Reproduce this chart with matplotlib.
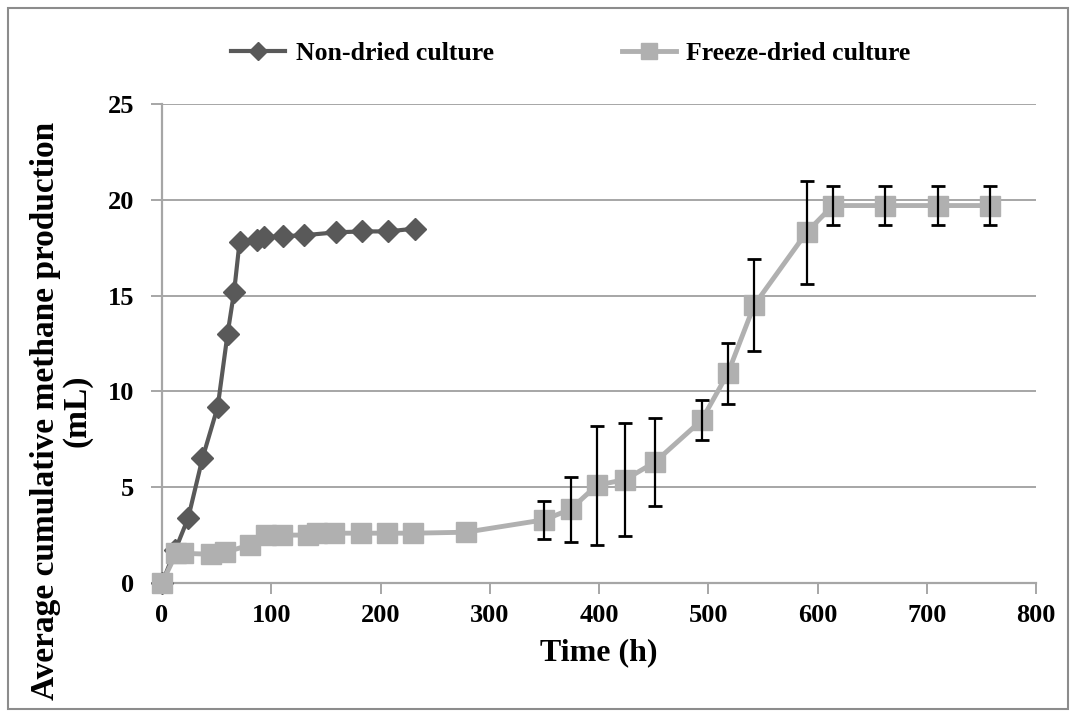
import matplotlib
matplotlib.use("Agg")
import matplotlib.pyplot as plt
from matplotlib.patches import Rectangle

# Data
nondried_time = [0, 12, 24, 37, 51, 60, 66, 71, 87, 93, 111, 130, 159, 183, 207, 232]
nondried_ch4 = [0, 1.7, 3.4, 6.5, 9.2, 13.0, 15.2, 17.8, 17.9, 18.05, 18.1, 18.15, 18.3, 18.35, 18.35, 18.5]

freeze_time = [0, 13, 19, 45, 58, 81, 95, 110, 134, 142, 157, 182, 206, 230, 278,
               350, 374, 398, 424, 451, 494, 518, 542, 590, 614, 662, 710, 758]
freeze_ch4 = [0, 1.55, 1.55, 1.5, 1.6, 2.0, 2.5, 2.5, 2.5, 2.6, 2.6, 2.6, 2.6, 2.6, 2.65,
              3.3, 3.85, 5.1, 5.4, 6.3, 8.5, 10.95, 14.5, 18.3, 19.7, 19.7, 19.7, 19.7]
freeze_err = [0, 0, 0, 0, 0, 0, 0, 0, 0, 0, 0, 0, 0, 0, 0,
              1.0, 1.7, 3.1, 2.95, 2.3, 1.05, 1.6, 2.4, 2.7, 1.0, 1.0, 1.0, 1.0]

x_ticks = [0, 100, 200, 300, 400, 500, 600, 700, 800]
y_ticks = [0, 5, 10, 15, 20, 25]
legend_labels = ["Non-dried culture", "Freeze-dried culture"]

W, H = 1076, 717
fig = plt.figure(figsize=(W / 100, H / 100), dpi=100)
plt.rcParams['font.family'] = ['Liberation Serif', 'DejaVu Serif']

ax = fig.add_axes([162 / W, 1 - 583 / H, (1036 - 162) / W, (583 - 104) / H])

grid_col = '#a6a6a6'
dark = '#595959'
light = '#b0b0b0'

err_x = [t for t, e in zip(freeze_time, freeze_err) if e > 0]
err_y = [v for v, e in zip(freeze_ch4, freeze_err) if e > 0]
err_e = [e for e in freeze_err if e > 0]

l1, = ax.plot(nondried_time, nondried_ch4, color=dark, lw=3, marker='D', markersize=11,
              markerfacecolor=dark, markeredgecolor=dark, zorder=3, clip_on=False,
              label=legend_labels[0])
l2, = ax.plot(freeze_time, freeze_ch4, color=light, lw=3.5, marker='s', markersize=14,
              markerfacecolor=light, markeredgecolor=light, zorder=4, clip_on=False,
              label=legend_labels[1])
ax.errorbar(err_x, err_y, yerr=err_e, fmt='none', ecolor='black', elinewidth=1.6,
            capsize=5, capthick=2, zorder=5)

ax.set_xlim(0, 800)
ax.set_ylim(0, 25)
ax.set_xticks(x_ticks)
ax.set_yticks(y_ticks)
ax.yaxis.grid(True, color=grid_col, lw=1.4)
ax.set_axisbelow(True)
for s in ['top', 'right']:
    ax.spines[s].set_visible(False)
for s in ['left', 'bottom']:
    ax.spines[s].set_color(grid_col)
    ax.spines[s].set_linewidth(1.6)
ax.tick_params(axis='both', colors=grid_col, length=8, width=1.4, direction='out')
ax.tick_params(axis='x', pad=7)
ax.tick_params(axis='y', pad=12)
for lab in ax.get_xticklabels() + ax.get_yticklabels():
    lab.set_color('black')
    lab.set_fontweight('bold')
    lab.set_fontsize(19)

ax.set_xlabel('Time (h)', fontsize=23, fontweight='bold', labelpad=8)
ax.set_ylabel('Average cumulative methane production\n(mL)', fontsize=24,
              fontweight='bold', linespacing=1.0)
ax.yaxis.set_label_coords(-0.08, 0.36)

fig.legend(handles=[l1, l2], labels=legend_labels, loc='center', ncol=2,
           bbox_to_anchor=(571 / W, 1 - 53 / H), frameon=False,
           prop={'weight': 'bold', 'size': 18.5}, columnspacing=5.0, handlelength=2.1,
           handletextpad=0.4, markerscale=0.85)

fig.add_artist(Rectangle((8 / W, 8 / H), 1 - 16 / W, 1 - 16 / H, transform=fig.transFigure,
                         fill=False, edgecolor='#8c8c8c', lw=1.5))

fig.savefig('out.png', dpi=100)
